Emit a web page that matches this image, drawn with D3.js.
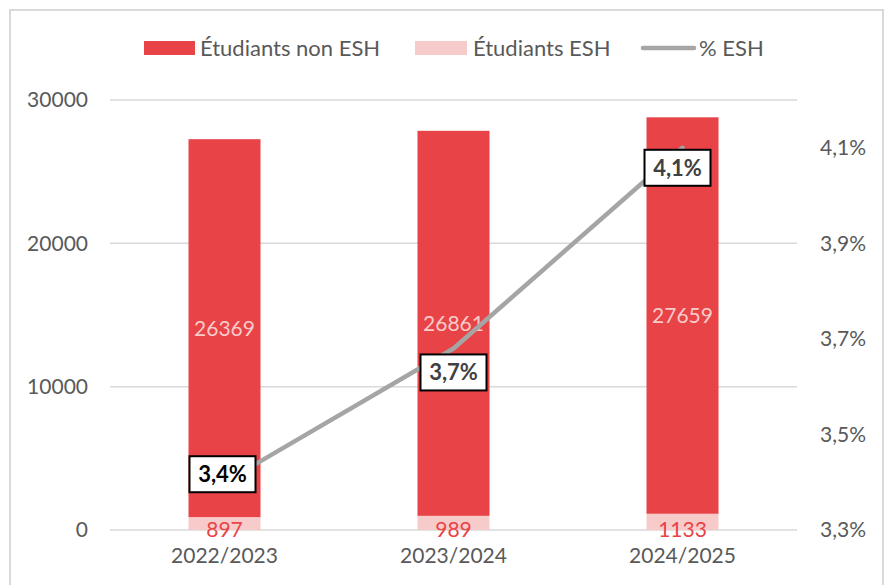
<!DOCTYPE html>
<html><head><meta charset="utf-8">
<script src="https://cdn.jsdelivr.net/npm/d3@7"></script>
<style>
html,body{margin:0;padding:0;background:#fff;}
svg{display:block;font-family:Lato, "Open Sans", sans-serif;}
</style></head>
<body>
<svg id="chart" width="889" height="585"></svg>
<script>
const categories = ["2022/2023", "2023/2024", "2024/2025"];
const nonEsh = [26369, 26861, 27659];
const esh = [897, 989, 1133];
const pctEsh = [3.40, 3.68, 4.10];
const pctLabels = ["3,4%", "3,7%", "4,1%"];
const leftTicks = [0, 10000, 20000, 30000];
const rightTicks = [3.3, 3.5, 3.7, 3.9, 4.1];
const seriesNames = ["Étudiants non ESH", "Étudiants ESH", "% ESH"];

const RED = "#E84346", PINK = "#F8CBCB", GRAY = "#A5A5A5", TXT = "#595959", GRID = "#D9D9D9";
const svg = d3.select("#chart");
const L = 110, R = 797, T = 100, B = 530;

// frame
svg.append("rect").attr("x", 10).attr("y", 10).attr("width", 873).attr("height", 600)
  .attr("fill", "none").attr("stroke", GRID).attr("stroke-width", 2);

const x = d3.scaleBand().domain(categories).range([L, R]).paddingInner(0.6856).paddingOuter(0.3428);
const y = d3.scaleLinear().domain([0, 30000]).range([B, T]);
const y2 = d3.scaleLinear().domain([3.3, 4.2]).range([B, T]);

// gridlines
svg.append("g").selectAll("line").data(leftTicks).join("line")
  .attr("x1", L).attr("x2", R).attr("y1", d => y(d)).attr("y2", d => y(d))
  .attr("stroke", GRID).attr("stroke-width", 1.5);

// left axis
const la = svg.append("g").attr("transform", `translate(${L},0)`)
  .call(d3.axisLeft(y).tickValues(leftTicks).tickSize(0).tickPadding(22).tickFormat(d3.format("d")));
la.select(".domain").remove();
la.selectAll("text").attr("fill", TXT).style("font-size", "21px").style("font-family", "Lato");

// right axis
const ra = svg.append("g").attr("transform", `translate(${R},0)`)
  .call(d3.axisRight(y2).tickValues(rightTicks).tickSize(0).tickPadding(23)
    .tickFormat(d => d3.format(".1f")(d).replace(".", ",") + "%"));
ra.select(".domain").remove();
ra.selectAll("text").attr("fill", TXT).style("font-size", "21px").style("font-family", "Lato");

// bottom axis labels
const ba = svg.append("g").attr("transform", `translate(0,${B})`)
  .call(d3.axisBottom(x).tickSize(0).tickPadding(18));
ba.select(".domain").remove();
ba.selectAll("text").attr("fill", TXT).style("font-size", "21px").style("font-family", "Lato");

const rows = categories.map((c, i) => ({c, esh: esh[i], non: nonEsh[i], pct: pctEsh[i], lab: pctLabels[i]}));

// bars
svg.append("g").selectAll("rect").data(rows).join("rect")
  .attr("x", d => x(d.c)).attr("width", x.bandwidth())
  .attr("y", d => y(d.esh)).attr("height", d => y(0) - y(d.esh)).attr("fill", PINK);
svg.append("g").selectAll("rect").data(rows).join("rect")
  .attr("x", d => x(d.c)).attr("width", x.bandwidth())
  .attr("y", d => y(d.esh + d.non)).attr("height", d => y(d.esh) - y(d.esh + d.non)).attr("fill", RED);

// bar value labels
svg.append("g").selectAll("text").data(rows).join("text")
  .attr("x", d => x(d.c) + x.bandwidth() / 2)
  .attr("y", d => (y(d.esh) + y(d.esh + d.non)) / 2)
  .attr("dy", "0.35em").attr("text-anchor", "middle")
  .attr("fill", PINK).style("font-size", "21px").text(d => d.non);
svg.append("g").selectAll("text").data(rows).join("text")
  .attr("x", d => x(d.c) + x.bandwidth() / 2)
  .attr("y", y(0))
  .attr("dy", "0.35em").attr("text-anchor", "middle")
  .attr("fill", RED).style("font-size", "21px").text(d => d.esh);

// line
const cx = d => x(d.c) + x.bandwidth() / 2;
svg.append("path").datum(rows)
  .attr("d", d3.line().x(cx).y(d => y2(d.pct)))
  .attr("fill", "none").attr("stroke", GRAY).attr("stroke-width", 4.5).attr("stroke-linecap", "round").attr("stroke-linejoin", "round");

// percentage labels
const labelShift = [[-2, -8], [0, 24], [-5, 20]];
const labelColor = ["#000000", "#404040", "#404040"];
const lg = svg.append("g").selectAll("g").data(rows).join("g")
  .attr("transform", (d, i) => `translate(${cx(d) + labelShift[i][0]},${y2(d.pct) + labelShift[i][1]})`);
lg.append("rect").attr("x", -33).attr("y", -18).attr("width", 66).attr("height", 36)
  .attr("fill", "#fff").attr("stroke", "#000").attr("stroke-width", 2);
lg.append("text").attr("text-anchor", "middle").attr("dy", "0.36em")
  .attr("fill", (d, i) => labelColor[i]).style("font-size", "22px").style("font-weight", "bold")
  .text(d => d.lab);

// legend
const leg = svg.append("g").style("font-size", "22px");
leg.append("rect").attr("x", 144).attr("y", 41).attr("width", 51).attr("height", 14).attr("fill", RED);
leg.append("text").attr("x", 200).attr("y", 48).attr("dy", "0.35em").attr("fill", TXT).text(seriesNames[0]);
leg.append("rect").attr("x", 415).attr("y", 41).attr("width", 52).attr("height", 14).attr("fill", PINK);
leg.append("text").attr("x", 473).attr("y", 48).attr("dy", "0.35em").attr("fill", TXT).text(seriesNames[1]);
leg.append("line").attr("x1", 643).attr("x2", 694).attr("y1", 48).attr("y2", 48)
  .attr("stroke", GRAY).attr("stroke-width", 4.5).attr("stroke-linecap", "round");
leg.append("text").attr("x", 699).attr("y", 48).attr("dy", "0.35em").attr("fill", TXT).text(seriesNames[2]);
</script>
</body></html>
